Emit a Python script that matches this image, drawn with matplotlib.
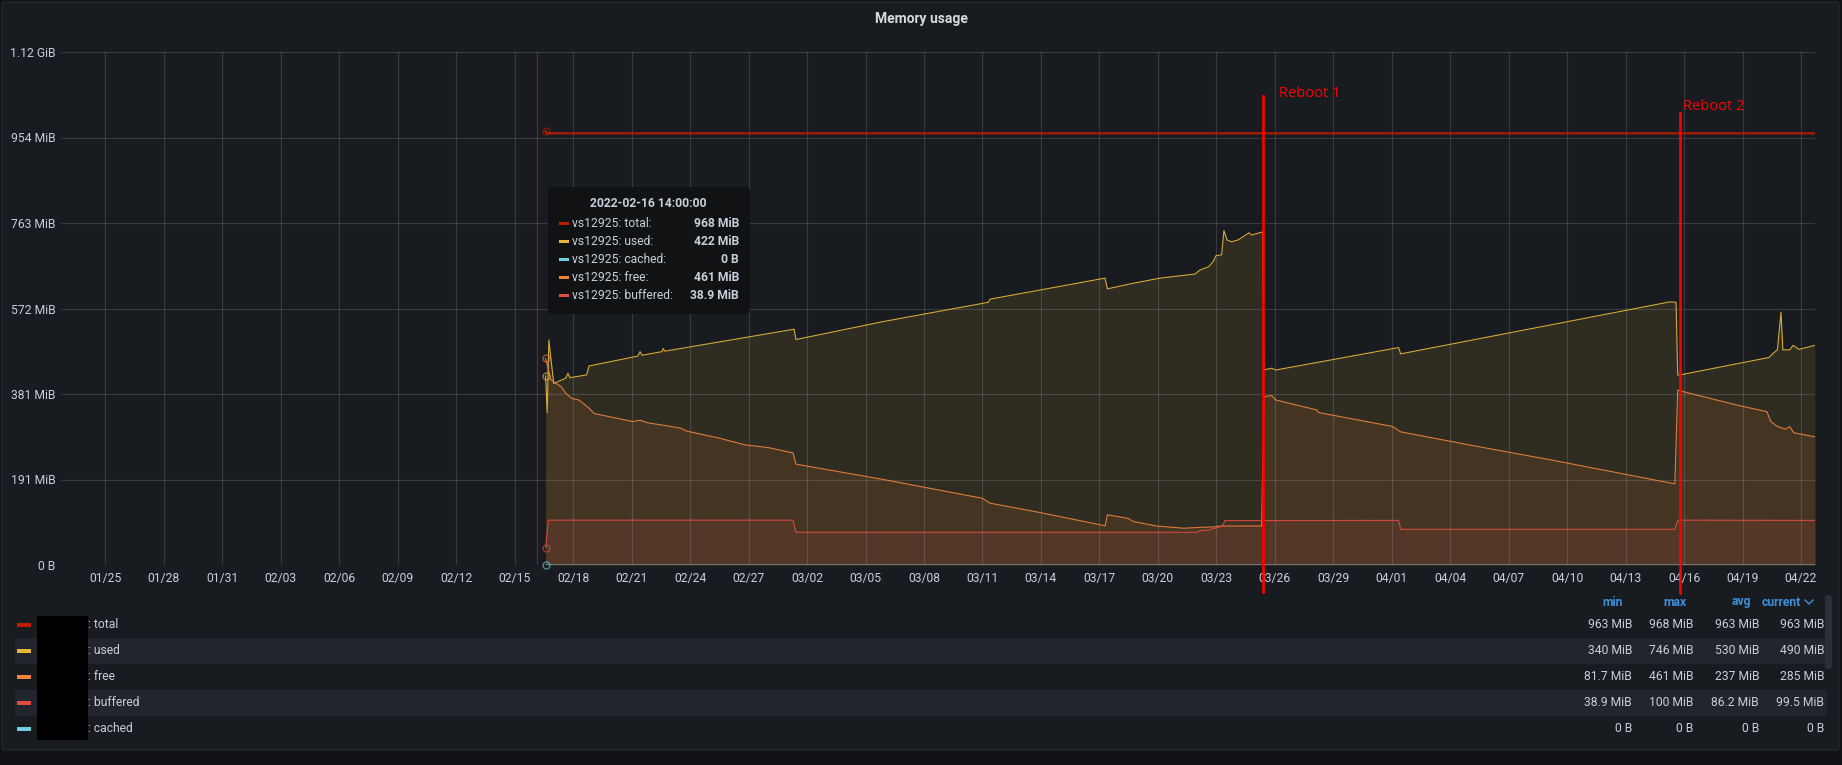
import matplotlib
matplotlib.use('Agg')
import matplotlib.pyplot as plt
import matplotlib.dates as mdates
from matplotlib.patches import Rectangle, FancyBboxPatch
import pandas as pd

plt.rcParams['font.family'] = ['Roboto', 'DejaVu Sans']

# ---- data (MiB) ----
total_t = ['2022-02-16 14:00', '2022-02-16 16:00', '2022-04-22 17:15']
total_v = [968, 963, 963]

used_t = ['2022-02-16 14:00', '2022-02-16 16:00', '2022-02-16 18:00', '2022-02-17 00:00', '2022-02-17 15:00',
          '2022-02-17 17:30', '2022-02-17 20:00', '2022-02-18 16:30', '2022-02-18 19:30', '2022-02-21 07:40',
          '2022-02-21 10:20', '2022-02-21 12:45', '2022-02-22 13:30', '2022-02-22 14:40', '2022-02-22 17:00',
          '2022-03-01 08:00', '2022-03-01 10:20', '2022-03-05 21:40', '2022-03-11 07:15', '2022-03-11 09:20',
          '2022-03-17 07:00', '2022-03-17 09:50', '2022-03-18 13:40', '2022-03-20 02:40', '2022-03-21 21:40',
          '2022-03-22 03:50', '2022-03-22 14:10', '2022-03-22 20:10', '2022-03-22 23:30', '2022-03-23 06:30',
          '2022-03-23 09:20', '2022-03-23 13:10', '2022-03-23 18:45', '2022-03-24 02:40', '2022-03-24 16:20',
          '2022-03-24 19:20', '2022-03-25 08:50', '2022-03-25 10:40', '2022-03-25 20:10', '2022-03-26 01:10',
          '2022-04-01 08:25', '2022-04-01 11:00', '2022-04-15 06:40', '2022-04-15 14:10', '2022-04-15 16:10',
          '2022-04-15 19:00', '2022-04-20 08:40', '2022-04-20 13:30', '2022-04-20 19:00', '2022-04-20 23:20',
          '2022-04-21 01:40', '2022-04-21 10:20', '2022-04-21 14:10', '2022-04-21 21:40', '2022-04-22 17:15']
used_v = [422, 340, 502, 405, 417, 428, 418, 424, 444, 466,
          476, 468, 476, 483, 477, 526, 503, 543, 586, 593,
          640, 616, 627, 640, 649, 658, 665, 677, 690, 692,
          746, 725, 721, 725, 741, 736, 743, 435, 439, 435,
          485, 471, 587, 586, 424, 424, 463, 472, 480, 564,
          480, 480, 490, 481, 490]

free_t = ['2022-02-16 14:00', '2022-02-16 20:40', '2022-02-17 03:00', '2022-02-17 09:10', '2022-02-17 15:00',
          '2022-02-17 21:50', '2022-02-18 07:10', '2022-02-18 19:30', '2022-02-19 01:40', '2022-02-21 01:20',
          '2022-02-21 10:20', '2022-02-21 20:10', '2022-02-22 14:40', '2022-02-23 12:45', '2022-02-23 19:00',
          '2022-02-25 12:00', '2022-02-26 19:40', '2022-02-28 00:00', '2022-03-01 06:40', '2022-03-01 10:20',
          '2022-03-05 02:10', '2022-03-05 21:10', '2022-03-10 23:30', '2022-03-11 09:20', '2022-03-13 22:50',
          '2022-03-17 03:10', '2022-03-17 07:00', '2022-03-17 09:50', '2022-03-18 11:30', '2022-03-18 17:45',
          '2022-03-19 22:35', '2022-03-21 07:50', '2022-03-22 03:50', '2022-03-22 21:10', '2022-03-23 04:30',
          '2022-03-25 07:50', '2022-03-25 10:40', '2022-03-25 20:10', '2022-03-26 01:30', '2022-03-28 03:30',
          '2022-03-28 06:10', '2022-04-01 01:00', '2022-04-01 11:00', '2022-04-05 10:50', '2022-04-09 05:20',
          '2022-04-15 12:40', '2022-04-15 16:10', '2022-04-15 22:30', '2022-04-18 16:30', '2022-04-20 06:00',
          '2022-04-20 11:00', '2022-04-20 19:00', '2022-04-21 05:00', '2022-04-21 10:05', '2022-04-21 15:10',
          '2022-04-22 17:15']
free_v = [461, 413, 405, 398, 383, 372, 368, 350, 338, 320,
          323, 317, 312, 305, 299, 283, 268, 262, 250, 225,
          197, 191, 149, 138, 117, 89, 87, 112, 104, 97,
          87, 82, 84, 85, 87, 87, 375, 378, 368, 346,
          340, 309, 297, 264, 234, 181, 390, 387, 357, 342,
          320, 309, 303, 309, 295, 286]

buffered_t = ['2022-02-16 14:00', '2022-02-16 17:30', '2022-03-01 06:40', '2022-03-01 10:20', '2022-03-21 23:45',
              '2022-03-22 03:50', '2022-03-22 14:10', '2022-03-22 22:20', '2022-03-23 07:50', '2022-03-23 10:30',
              '2022-04-01 08:25', '2022-04-01 11:00', '2022-04-15 12:40', '2022-04-15 16:20', '2022-04-22 17:15']
buffered_v = [38.9, 100, 100, 73, 73, 76.5, 78, 82, 87, 99, 99.5, 79.6, 79.6, 100, 99.5]

cached_t = ['2022-02-16 14:00', '2022-04-22 17:15']
cached_v = [0, 0]

view_start = '2022-01-22 17:15'
view_end = '2022-04-22 17:15'
hover_time = '2022-02-16 03:30'
reboot_times = ['2022-03-25 09:00', '2022-04-15 19:00']
reboot_labels = ['Reboot 1', 'Reboot 2']

# y ticks are 200 MB steps shown in MiB
ytick_mib = [k * 200e6 / 2**20 for k in range(7)]

legend_names = [': total', ': used', ': free', ': buffered', ': cached']
legend_min = ['963 MiB', '340 MiB', '81.7 MiB', '38.9 MiB', '0 B']
legend_max = ['968 MiB', '746 MiB', '461 MiB', '100 MiB', '0 B']
legend_avg = ['963 MiB', '530 MiB', '237 MiB', '86.2 MiB', '0 B']
legend_cur = ['963 MiB', '490 MiB', '285 MiB', '99.5 MiB', '0 B']

tip_title = '2022-02-16 14:00:00'
tip_names = ['vs12925: total:', 'vs12925: used:', 'vs12925: cached:', 'vs12925: free:', 'vs12925: buffered:']
tip_values = ['968 MiB', '422 MiB', '0 B', '461 MiB', '38.9 MiB']

C_TOTAL, C_USED, C_FREE, C_BUF, C_CACHED = '#bf1b00', '#eab839', '#ef843c', '#e24d42', '#6ed0e0'
TXT = '#c7d0d9'
BLUE = '#3d8fdb'

W, H = 1842, 765
fig = plt.figure(figsize=(W / 100, H / 100), dpi=100, facecolor='#111217')

# panel background, title and legend table in pixel coordinates
bg = fig.add_axes([0, 0, 1, 1], zorder=-1)
bg.set_xlim(0, W)
bg.set_ylim(H, 0)
bg.axis('off')
bg.add_patch(FancyBboxPatch((2, 2), 1837, 748, boxstyle='round,pad=0,rounding_size=3',
                            fc='#181b1f', ec='#24272d', lw=1))
bg.text(921, 19, 'Memory usage', ha='center', va='center', fontsize=10, fontweight='bold', color='#d8d9da')

row_y = [625, 651, 677, 703, 729]
sw_cols = [C_TOTAL, C_USED, C_FREE, C_BUF, C_CACHED]
for i, y in enumerate(row_y):
    if i % 2 == 1:
        bg.add_patch(Rectangle((15, y - 13), 1812, 26, fc='#22252b', lw=0))
    bg.add_patch(Rectangle((17, y - 2), 14, 4, fc=sw_cols[i], lw=0))
    bg.text(88, y, legend_names[i], ha='left', va='center', fontsize=8.7, color=TXT)
    for xr, col in zip([1632, 1693, 1759, 1824], [legend_min, legend_max, legend_avg, legend_cur]):
        bg.text(xr, y, col[i], ha='right', va='center', fontsize=8.7, color=TXT)
for xr, lab in zip([1623, 1686, 1751, 1801], ['min', 'max', 'avg', 'current']):
    bg.text(xr, 602, lab, ha='right', va='center', fontsize=8.7, fontweight='bold', color=BLUE)
bg.plot([1805, 1809, 1813], [600, 604, 600], color=BLUE, lw=1)
bg.add_patch(FancyBboxPatch((1825, 595), 7, 74, boxstyle='round,pad=0,rounding_size=3', fc='#2c2f36', lw=0))
bg.add_patch(Rectangle((37, 616), 51, 124, fc='black', lw=0))

# main graph
ax = fig.add_axes([61 / W, (H - 565) / H, (1815 - 61) / W, (565 - 52) / H])
ax.set_facecolor('none')
for s in ax.spines.values():
    s.set_visible(False)

series = [(used_t, used_v, C_USED, 0.11), (free_t, free_v, C_FREE, 0.11), (buffered_t, buffered_v, C_BUF, 0.1)]
for t, v, c, a in series:
    ax.fill_between(pd.to_datetime(t), v, 0, color=c, alpha=a, lw=0, zorder=2)
for t, v, c, lw in [(total_t, total_v, C_TOTAL, 1.6), (used_t, used_v, C_USED, 0.8),
                    (free_t, free_v, C_FREE, 0.8), (buffered_t, buffered_v, C_BUF, 0.8),
                    (cached_t, cached_v, C_CACHED, 1.2)]:
    tt = pd.to_datetime(t)
    ax.plot(tt, v, color=c, lw=lw, zorder=3, alpha=0.9 if c != C_CACHED else 0.55)
    ax.plot(tt[:1], v[:1], 'o', mfc='none', mec=c, ms=5, mew=1, alpha=0.6, zorder=3, clip_on=False)

ax.axvline(pd.Timestamp(hover_time), color='#9b1414', lw=0.8, zorder=1)

ax.set_xlim(pd.Timestamp(view_start), pd.Timestamp(view_end))
ax.set_ylim(0, ytick_mib[-1])
xt = pd.date_range('2022-01-25', '2022-04-22', freq='3D')
ax.set_xticks(xt)
ax.set_xticklabels([d.strftime('%m/%d') for d in xt])
ax.set_yticks(ytick_mib)


def fmt_mib(v):
    if v == 0:
        return '0 B'
    if v >= 1024:
        return f'{v / 1024:.2f} GiB'
    return f'{v:.0f} MiB'


ax.set_yticklabels([fmt_mib(v) for v in ytick_mib])
ax.tick_params(length=0, colors=TXT, labelsize=8.7)
ax.tick_params(axis='y', pad=4)
ax.tick_params(axis='x', pad=5)
ax.grid(True, color=(0.8, 0.8, 0.86), alpha=0.18, lw=0.8)
ax.set_axisbelow(False)  # grid sits over the translucent fills, under the lines

# hand-drawn reboot markers
tops = [0.914, 0.881]
bottoms = [-0.053, -0.055]
offs = [12, 2.5]
label_y = [0.920, 0.893]
for rt, lab, top, bot, off, ly in zip(reboot_times, reboot_labels, tops, bottoms, offs, label_y):
    ts = pd.Timestamp(rt)
    ax.axvline(ts, ymin=bot, ymax=top, color='#ff0000', lw=1.9, zorder=6, clip_on=False)
    ax.annotate(lab, xy=(mdates.date2num(ts), ly), xycoords=ax.get_xaxis_transform(), xytext=(off, 0),
                textcoords='offset points', ha='left', va='center', color='#ff0000', fontsize=10.5,
                family=['Liberation Sans Narrow', 'Open Sans', 'DejaVu Sans'], zorder=6)

# hover tooltip
ov = fig.add_axes([0, 0, 1, 1], zorder=10)
ov.set_xlim(0, W)
ov.set_ylim(H, 0)
ov.axis('off')
ov.patch.set_alpha(0)
ov.add_patch(FancyBboxPatch((548, 187), 202, 127, boxstyle='round,pad=0,rounding_size=4', fc='#111214', lw=0))
ov.text(648, 203, tip_title, ha='center', va='center', fontsize=8.7, fontweight='bold', color=TXT)
tip_cols = [C_TOTAL, C_USED, C_CACHED, C_FREE, C_BUF]
for i, (n, v) in enumerate(zip(tip_names, tip_values)):
    y = 223.3 + 18 * i
    ov.add_patch(Rectangle((559, y - 1.5), 10, 3, fc=tip_cols[i], lw=0))
    ov.text(572, y, n, ha='left', va='center', fontsize=8.7, color=TXT)
    ov.text(739, y, v, ha='right', va='center', fontsize=8.7, fontweight='bold', color=TXT)

fig.savefig('out.png', dpi=100, facecolor=fig.get_facecolor())
